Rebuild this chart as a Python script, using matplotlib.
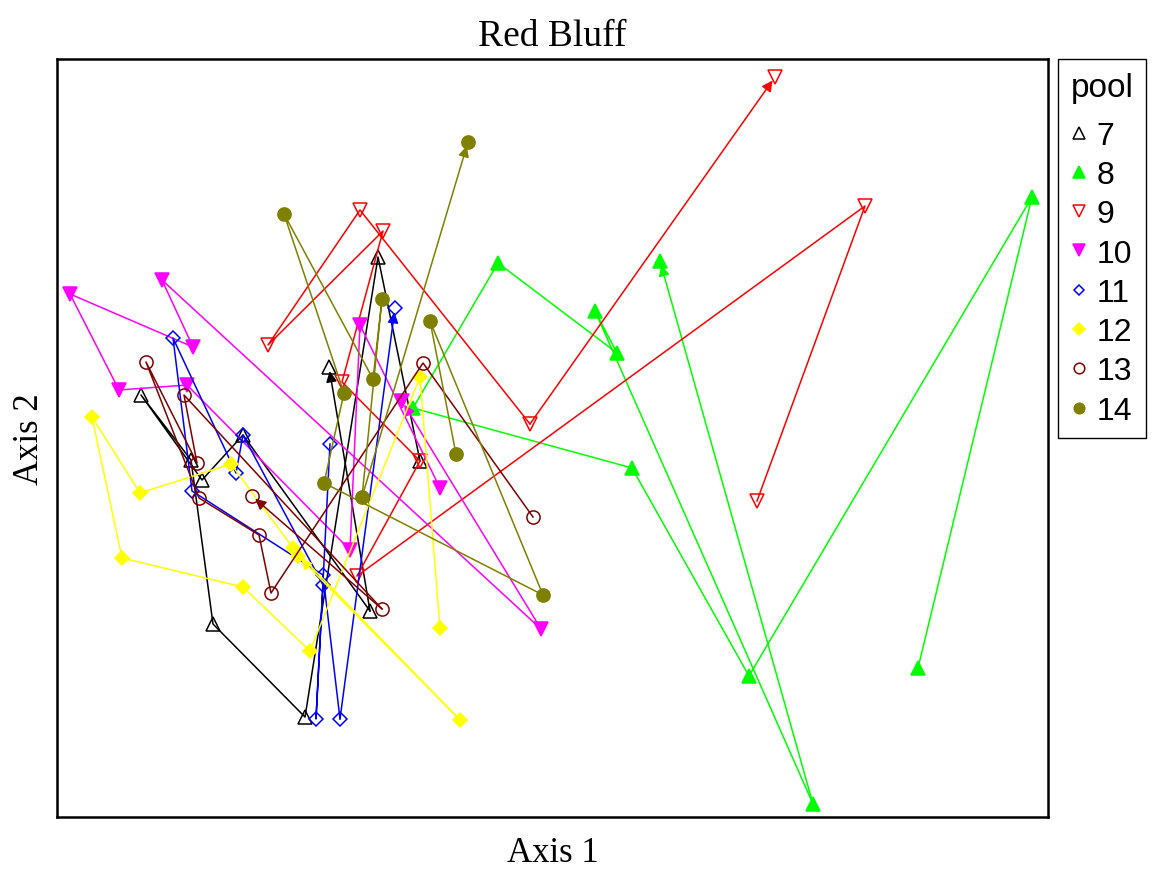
import matplotlib
matplotlib.use("Agg")
import matplotlib.pyplot as plt
from matplotlib.lines import Line2D
from matplotlib.patches import FancyArrowPatch

# ── trajectory scores per pool (Axis 1, Axis 2), in sampling order ───────────
pools = ["7", "8", "9", "10", "11", "12", "13", "14"]

pool7_x = [3.63, 3.21, 2.48, 1.56, 1.34, 0.84, 1.45, 1.86, 3.13, 2.72]
pool7_y = [3.56, 5.60, 1.00, 1.93, 3.57, 4.22, 3.37, 3.82, 2.06, 4.50]

pool8_x = [8.61, 9.75, 6.92, 5.75, 3.56, 4.41, 5.60, 5.38, 7.56, 6.03]
pool8_y = [1.49, 6.20, 1.41, 3.49, 4.09, 5.54, 4.64, 5.06, 0.13, 5.56]

pool9_x = [7.00, 8.08, 3.00, 3.63, 2.85, 3.26, 2.11, 3.03, 4.73, 7.18]
pool9_y = [3.16, 6.11, 2.41, 3.56, 4.35, 5.86, 4.72, 6.07, 3.93, 7.40]

pool10_x = [3.83, 3.03, 2.93, 1.30, 0.62, 0.13, 1.36, 1.05, 4.84, 3.45]
pool10_y = [3.29, 4.92, 2.67, 4.32, 4.27, 5.23, 4.70, 5.37, 1.88, 4.16]

pool11_x = [2.73, 2.59, 2.66, 1.86, 1.79, 1.16, 1.35, 2.66, 2.83, 3.38]
pool11_y = [3.73, 0.98, 2.32, 3.82, 3.44, 4.79, 3.26, 2.42, 0.98, 5.09]

pool12_x = [3.83, 3.63, 2.53, 1.86, 0.65, 0.35, 0.83, 1.74, 2.36, 4.03, 2.41]
pool12_y = [1.89, 4.40, 1.66, 2.30, 2.59, 4.00, 3.24, 3.53, 2.69, 0.97, 2.61]

pool13_x = [4.76, 3.66, 2.14, 2.02, 1.42, 0.89, 1.40, 1.27, 3.25, 1.95]
pool13_y = [3.00, 4.54, 2.24, 2.82, 3.19, 4.55, 3.54, 4.22, 2.08, 3.21]

pool14_x = [3.99, 3.73, 4.86, 2.67, 2.87, 2.27, 3.16, 3.25, 3.05, 4.11]
pool14_y = [3.63, 4.96, 2.22, 3.34, 4.24, 6.03, 4.38, 5.18, 3.20, 6.75]

xs = [pool7_x, pool8_x, pool9_x, pool10_x, pool11_x, pool12_x, pool13_x, pool14_x]
ys = [pool7_y, pool8_y, pool9_y, pool10_y, pool11_y, pool12_y, pool13_y, pool14_y]

# ── styles (R pch 2, 17, 6, 25, 5, 18, 1, 16) ────────────────────────────────
colors = ["black", "#00ff00", "red", "#ff00ff", "blue", "#ffff00", "#800000", "#808000"]
markers = ["^", "^", "v", "v", "D", "D", "o", "o"]
filled = [False, True, False, True, False, True, False, True]
msizes = [10, 10, 10, 10, 7, 7.5, 9.5, 9.5]

serif = ["Liberation Serif", "DejaVu Serif"]
sans = ["Liberation Sans", "DejaVu Sans"]

fig = plt.figure(figsize=(11.52, 8.78), dpi=100)
ax = fig.add_axes([57 / 1152, 60 / 878, 991 / 1152, 758 / 878])

for i, name in enumerate(pools):
    x, y, c = xs[i], ys[i], colors[i]
    z = 2 + i
    # lines for all segments but the last, the last one gets an arrow
    ax.plot(x[:-1], y[:-1], color=c, lw=1.1, zorder=z)
    ax.add_patch(FancyArrowPatch(
        (x[-2], y[-2]), (x[-1], y[-1]), arrowstyle="-|>", mutation_scale=16,
        color=c, lw=1.1, shrinkA=0, shrinkB=3, zorder=z))
    ax.plot(x, y, linestyle="none", marker=markers[i], ms=msizes[i],
            mec=c, mfc=c if filled[i] else "none", mew=1.1, zorder=z)

ax.set_xlim(0, 9.91)
ax.set_ylim(0, 7.58)
ax.set_xticks([])
ax.set_yticks([])
for sp in ax.spines.values():
    sp.set_linewidth(1.8)

ax.set_title("Red Bluff", fontsize=27, family=serif, pad=10)
ax.set_xlabel("Axis 1", fontsize=25, family=serif, labelpad=14)
ax.set_ylabel("Axis 2", fontsize=25, family=serif, labelpad=8)

handles = [
    Line2D([], [], linestyle="none", marker=markers[i], ms=msizes[i] * 0.8,
           mec=colors[i], mfc=colors[i] if filled[i] else "none", mew=1.1)
    for i in range(len(pools))
]
leg = fig.legend(handles, pools, title="pool", loc="upper left",
                 bbox_to_anchor=(1058 / 1152, 1 - 60 / 878),
                 prop={"family": sans, "size": 23}, title_fontproperties={"family": sans, "size": 24},
                 frameon=True, fancybox=False, edgecolor="black", framealpha=1,
                 handlelength=0.5, handletextpad=0.3, labelspacing=0.29,
                 borderpad=0.4, borderaxespad=0)
leg.get_frame().set_linewidth(1.0)
leg._legend_box.align = "left"
leg._legend_box.sep = 13

fig.savefig("out.png", dpi=100)
